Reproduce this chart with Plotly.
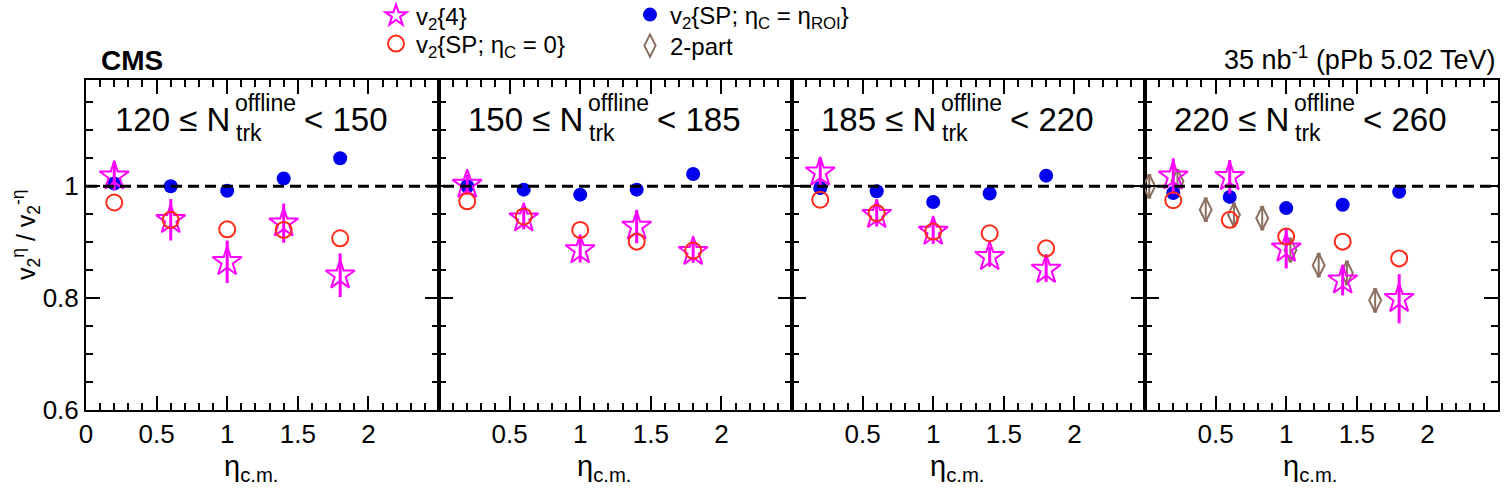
import plotly.graph_objects as go

# ---------------- data ----------------
eta = [0.2, 0.6, 1.0, 1.4, 1.8]
eta_2part = [0.03, 0.23, 0.43, 0.63, 0.83, 1.03, 1.23, 1.43, 1.63]

bin_lo = ["120", "150", "185", "220"]
bin_hi = ["150", "185", "220", "260"]

v24 = [
    [1.018, 0.940, 0.865, 0.934, 0.841],
    [1.003, 0.943, 0.886, 0.928, 0.883],
    [1.025, 0.949, 0.919, 0.874, 0.851],
    [1.018, 1.017, 0.889, 0.832, 0.799],
]
v24_err = [
    [0.025, 0.037, 0.038, 0.035, 0.039],
    [0.018, 0.020, 0.022, 0.030, 0.020],
    [0.026, 0.021, 0.022, 0.018, 0.022],
    [0.032, 0.030, 0.036, 0.027, 0.044],
]
sp0 = [
    [0.971, 0.940, 0.923, 0.922, 0.907],
    [0.973, 0.946, 0.922, 0.901, 0.885],
    [0.976, 0.952, 0.919, 0.916, 0.889],
    [0.975, 0.940, 0.910, 0.901, 0.871],
]
sproi = [
    [1.005, 1.000, 0.992, 1.014, 1.050],
    [1.000, 0.994, 0.985, 0.994, 1.022],
    [0.997, 0.991, 0.972, 0.987, 1.019],
    [0.988, 0.981, 0.961, 0.967, 0.990],
]
twopart = [1.000, 1.009, 0.958, 0.949, 0.943, 0.886, 0.859, 0.845, 0.796]
twopart_err = [0.02, 0.02, 0.02, 0.02, 0.02, 0.02, 0.02, 0.02, 0.02]

xticks_first = [0, 0.5, 1, 1.5, 2]
xticks_other = [0.5, 1, 1.5, 2]
yticks = [0.6, 0.8, 1.0]
yticktext = ["0.6", "0.8", "1"]

# ---------------- style ----------------
FONT = "Liberation Sans, Arial, Helvetica, sans-serif"
MAG = "#ff00ff"
RED = "#ff2a1a"
BLUE = "#0000ee"
BROWN = "#8c6e5e"

W, H = 1505, 494
ML, MR, MT, MB = 86, 7, 80, 84
PW = W - ML - MR
PH = H - MT - MB


def px2x(px):
    return (px - ML) / PW


def py2y(py):
    return (H - MB - py) / PH


fig = go.Figure()

for i in range(4):
    xa = "x" if i == 0 else f"x{i+1}"
    ya = "y" if i == 0 else f"y{i+1}"
    if i == 3:
        fig.add_trace(go.Scatter(
            x=eta_2part, y=twopart, xaxis=xa, yaxis=ya, mode="markers",
            name="2-part", legend="legend4", showlegend=True,
            marker=dict(symbol="diamond-tall-open", size=17, color=BROWN,
                        line=dict(width=2, color=BROWN)),
            error_y=dict(type="data", array=twopart_err, color=BROWN,
                         thickness=2, width=2),
        ))
    fig.add_trace(go.Scatter(
        x=eta, y=sproi[i], xaxis=xa, yaxis=ya, mode="markers",
        name="v<sub>2</sub>{SP; η<sub>C</sub> = η<sub>ROI</sub>}",
        legend="legend2", showlegend=(i == 0),
        marker=dict(symbol="circle", size=14, color=BLUE),
    ))
    fig.add_trace(go.Scatter(
        x=eta, y=v24[i], xaxis=xa, yaxis=ya, mode="markers",
        name="v<sub>2</sub>{4}", legend="legend", showlegend=(i == 0),
        marker=dict(symbol="star-open", size=22, color=MAG,
                    line=dict(width=2, color=MAG)),
        error_y=dict(type="data", array=v24_err[i], color=MAG,
                     thickness=3, width=0),
    ))
    fig.add_trace(go.Scatter(
        x=eta, y=sp0[i], xaxis=xa, yaxis=ya, mode="markers",
        name="v<sub>2</sub>{SP; η<sub>C</sub> = 0}", legend="legend3",
        showlegend=(i == 0),
        marker=dict(symbol="circle-open", size=16, color=RED,
                    line=dict(width=2, color=RED)),
    ))

axis_common = dict(
    showline=True, linecolor="black", linewidth=2, mirror="allticks",
    ticks="inside", tickcolor="black", tickwidth=2,
    showgrid=False, zeroline=False,
    tickfont=dict(family=FONT, size=26, color="black"),
)

layout = dict(
    width=W, height=H,
    margin=dict(l=ML, r=MR, t=MT, b=MB, pad=0, autoexpand=False),
    paper_bgcolor="white", plot_bgcolor="white",
    font=dict(family=FONT, color="black"),
)

for i in range(4):
    xk = "xaxis" if i == 0 else f"xaxis{i+1}"
    yk = "yaxis" if i == 0 else f"yaxis{i+1}"
    tv = xticks_first if i == 0 else xticks_other
    layout[xk] = dict(
        axis_common, domain=[i / 4, (i + 1) / 4], range=[0, 2.5],
        anchor="y" if i == 0 else f"y{i+1}",
        tickvals=tv, ticktext=[("%g" % v) for v in tv], ticklen=14,
        minor=dict(dtick=0.1, tick0=0, ticklen=7, ticks="inside",
                   tickcolor="black", tickwidth=1.5),
    )
    layout[yk] = dict(
        axis_common, domain=[0, 1], range=[0.6, 1.19],
        anchor="x" if i == 0 else f"x{i+1}",
        tickvals=yticks, ticktext=yticktext, ticklen=14,
        showticklabels=(i == 0),
        minor=dict(dtick=0.05, tick0=0.6, ticklen=7, ticks="inside",
                   tickcolor="black", tickwidth=1.5),
    )

legend_common = dict(
    xanchor="left", yanchor="middle", bgcolor="rgba(0,0,0,0)",
    font=dict(family=FONT, size=24, color="black"), itemsizing="trace",
    borderwidth=0,
)
layout["legend"] = dict(legend_common, x=px2x(376), y=py2y(16))
layout["legend3"] = dict(legend_common, x=px2x(376), y=py2y(44))
layout["legend2"] = dict(legend_common, x=px2x(630), y=py2y(15))
layout["legend4"] = dict(legend_common, x=px2x(630), y=py2y(46))

fig.update_layout(**layout)

# dashed unity line across all panels
fig.add_shape(type="line", xref="paper", yref="y", x0=0, x1=1, y0=1, y1=1,
              line=dict(color="black", width=3, dash="11px,6px"), layer="above")

ann = []
for i in range(4):
    L = ML + 353 * i
    ann.append(dict(text=f"{bin_lo[i]} ≤ N", x=px2x(L + 146), y=py2y(119),
                    xanchor="right", yanchor="middle", font=dict(size=33)))
    ann.append(dict(text="offline", x=px2x(L + 147), y=py2y(103),
                    xanchor="left", yanchor="middle", font=dict(size=23)))
    ann.append(dict(text="trk", x=px2x(L + 148), y=py2y(133),
                    xanchor="left", yanchor="middle", font=dict(size=23)))
    ann.append(dict(text=f"< {bin_hi[i]}", x=px2x(L + 216), y=py2y(119),
                    xanchor="left", yanchor="middle", font=dict(size=33)))
    ann.append(dict(text="η<sub>c.m.</sub>", x=px2x(L + 165), y=py2y(468),
                    xanchor="center", yanchor="middle", font=dict(size=29)))

ann.append(dict(text="v<sub>2</sub><sup>η</sup> / v<sub>2</sub><sup>-η</sup>",
                x=px2x(26), y=py2y(235), textangle=-90,
                xanchor="center", yanchor="middle", font=dict(size=25)))
ann.append(dict(text="<b>CMS</b>", x=px2x(99), y=py2y(60),
                xanchor="left", yanchor="middle", font=dict(size=28)))
ann.append(dict(text="35 nb<sup>-1</sup> (pPb 5.02 TeV)", x=px2x(1498),
                y=py2y(58), xanchor="right", yanchor="middle",
                font=dict(size=27)))

for a in ann:
    a.update(xref="paper", yref="paper", showarrow=False)
    a["font"].update(family=FONT, color="black")
fig.update_layout(annotations=ann)

fig.write_html("out.html")
